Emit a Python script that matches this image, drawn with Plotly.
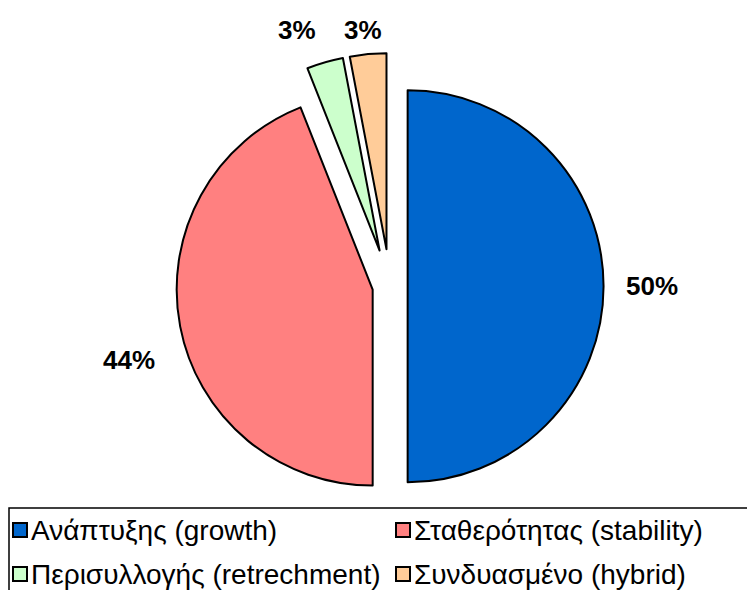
import plotly.graph_objects as go

# Strategy types and their share (%)
categories = [
    "Ανάπτυξης (growth)",
    "Σταθερότητας (stability)",
    "Περισυλλογής (retrechment)",
    "Συνδυασμένο (hybrid)",
]
shares = [50, 44, 3, 3]

colors = ["#0066CC", "#FF8080", "#CCFFCC", "#FFCC99"]
pulls = [0.09, 0.09, 0.19, 0.19]

W, H = 747, 590
FONT = "Arial, 'Liberation Sans', sans-serif"


def fx(px):
    return px / W


def fy(py):
    return 1 - py / H


# pie geometry (pixels): centre and radius of the un-pulled pie
cx, cy, r = 390.0, 286.3, 196.0
half = r * (1 + max(pulls))

fig = go.Figure(
    go.Pie(
        labels=categories,
        values=shares,
        sort=False,
        direction="clockwise",
        rotation=0,
        pull=pulls,
        marker=dict(colors=colors, line=dict(color="#000000", width=2)),
        textinfo="none",
        hoverinfo="skip",
        showlegend=False,
        domain=dict(
            x=[fx(cx - half), fx(cx + half)],
            y=[fy(cy + half), fy(cy - half)],
        ),
    )
)

# percentage labels placed outside each slice
label_pos = [(651.5, 285.5), (128.5, 359.5), (297.3, 29.5), (363.4, 29.5)]
annotations = []
for v, (px, py) in zip(shares, label_pos):
    annotations.append(
        dict(
            text=f"<b>{v:g}%</b>",
            x=fx(px), y=fy(py), xref="paper", yref="paper",
            xanchor="center", yanchor="middle", showarrow=False,
            font=dict(family=FONT, size=26, color="#000000"),
        )
    )

# legend: framed box with two columns of swatch + text
shapes = [
    dict(
        type="rect", xref="paper", yref="paper",
        x0=fx(9), x1=fx(770), y0=fy(508), y1=fy(620),
        line=dict(color="#000000", width=1.5), fillcolor="rgba(0,0,0,0)",
    )
]
cols = [13, 396]
rows = [530, 574]
sw = 14
for i, (name, col) in enumerate(zip(categories, colors)):
    mx = cols[i % 2]
    my = rows[i // 2]
    shapes.append(
        dict(
            type="rect", xref="paper", yref="paper",
            x0=fx(mx), x1=fx(mx + sw), y0=fy(my + sw / 2), y1=fy(my - sw / 2),
            line=dict(color="#000000", width=2), fillcolor=col,
        )
    )
    annotations.append(
        dict(
            text=name,
            x=fx(mx + sw + 2), y=fy(my), xref="paper", yref="paper",
            xanchor="left", yanchor="middle", showarrow=False,
            font=dict(family=FONT, size=28, color="#000000"),
        )
    )

fig.update_layout(
    width=W,
    height=H,
    margin=dict(l=0, r=0, t=0, b=0, autoexpand=False),
    paper_bgcolor="#FFFFFF",
    plot_bgcolor="#FFFFFF",
    annotations=annotations,
    shapes=shapes,
    showlegend=False,
)

fig.write_html("out.html")
